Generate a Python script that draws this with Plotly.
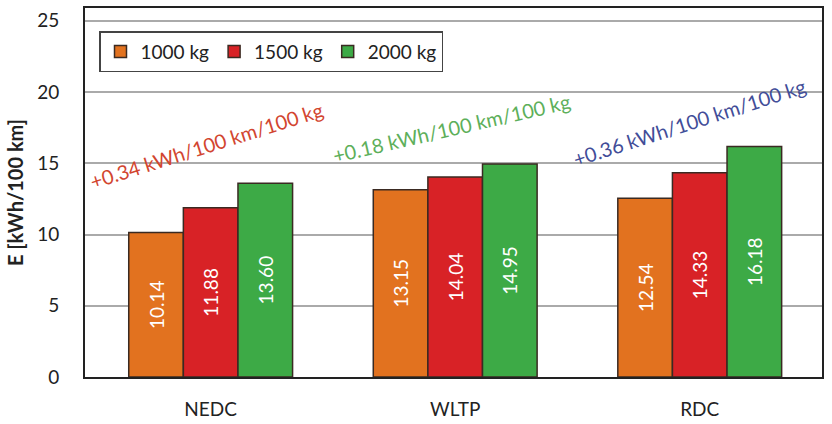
import plotly.graph_objects as go

# Driving cycles and energy consumption per vehicle mass
cycles = ["NEDC", "WLTP", "RDC"]
masses = ["1000 kg", "1500 kg", "2000 kg"]
e_1000 = [10.14, 13.15, 12.54]
e_1500 = [11.88, 14.04, 14.33]
e_2000 = [13.60, 14.95, 16.18]
slopes = ["+0.34 kWh/100 km/100 kg", "+0.18 kWh/100 km/100 kg", "+0.36 kWh/100 km/100 kg"]

y_ticks = [0, 5, 10, 15, 20, 25]

bar_colors = ["#E2721F", "#D82226", "#3DAA46"]
slope_colors = ["#D2452F", "#5DAF5A", "#424D98"]
FONT = "Lato, 'Open Sans', sans-serif"

fig = go.Figure()
for name, vals, col in zip(masses, [e_1000, e_1500, e_2000], bar_colors):
    fig.add_trace(go.Bar(
        name=name,
        x=cycles,
        y=vals,
        marker=dict(color=col, line=dict(color="#3A2A22", width=1.5)),
        text=[f"{v:.2f}" for v in vals],
        textposition="inside",
        insidetextanchor="middle",
        textangle=-90,
        textfont=dict(family=FONT, size=19, color="white"),
        cliponaxis=False,
    ))

# Slope annotations above each cycle group
slope_pos = [(-0.015, 16.3, -17.5), (-0.015, 17.5, -13.0), (-0.04, 17.9, -17.8)]
for (dx, yy, ang), txt, col, i in zip(slope_pos, slopes, slope_colors, range(3)):
    fig.add_annotation(
        x=i + dx, y=yy, xref="x", yref="y",
        text=txt, showarrow=False, textangle=ang,
        font=dict(family=FONT, size=20, color=col),
    )

fig.update_layout(
    width=832, height=424,
    margin=dict(l=85, r=10, t=8, b=47, autoexpand=False),
    paper_bgcolor="white",
    plot_bgcolor="white",
    barmode="group",
    bargap=0.33,
    bargroupgap=0,
    font=dict(family=FONT, color="#222222"),
    legend=dict(
        orientation="h",
        x=0.019, y=0.937, xanchor="left", yanchor="top",
        bgcolor="white",
        bordercolor="#444444", borderwidth=1.5,
        font=dict(family=FONT, size=19, color="#222222"),
        itemwidth=30,
    ),
    xaxis=dict(
        type="category",
        automargin=False,
        showline=True, mirror=True, linecolor="#222222", linewidth=2,
        showgrid=False, ticks="",
        tickfont=dict(family=FONT, size=19, color="#222222"),
        ticklabelstandoff=14,
    ),
    yaxis=dict(
        range=[0, 25.9],
        tickvals=y_ticks,
        automargin=False,
        showline=True, mirror=True, linecolor="#222222", linewidth=2,
        showgrid=True, gridcolor="#AAAAAA", gridwidth=1.5,
        zeroline=False, ticks="",
        tickfont=dict(family=FONT, size=19, color="#222222"),
        ticklabelstandoff=20,
        title=dict(text="<b>E [kWh/100 km]</b>",
                   font=dict(family=FONT, size=20, color="#222222"),
                   standoff=8),
    ),
)

fig.write_html("out.html")
